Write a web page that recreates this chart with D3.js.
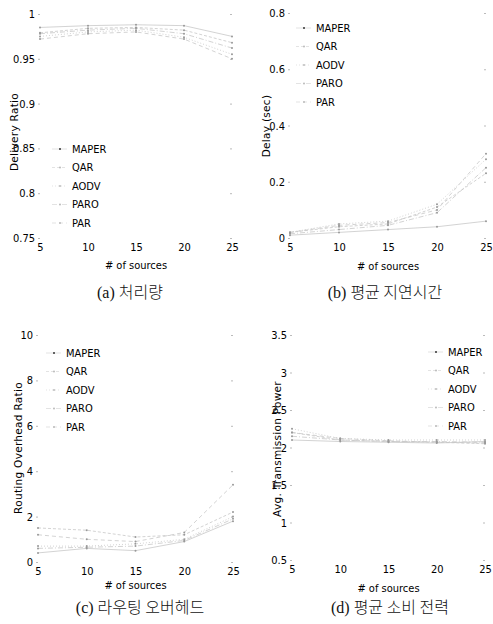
<!DOCTYPE html>
<html>
<head>
<meta charset="utf-8">
<script src="https://cdn.jsdelivr.net/npm/d3@7"></script>
<style>
  body { margin: 0; background: #fff; }
  svg { display: block; }
</style>
</head>
<body>
<script>
// x values shared by all four panels
const sources = [5, 10, 15, 20, 25];
const protocols = ['MAPER', 'QAR', 'AODV', 'PARO', 'PAR'];

// (a) delivery ratio
const deliveryTicks = [0.75, 0.8, 0.85, 0.9, 0.95, 1];
const deliveryMAPER = [0.985, 0.987, 0.988, 0.987, 0.975];
const deliveryQAR   = [0.979, 0.984, 0.985, 0.982, 0.968];
const deliveryAODV  = [0.975, 0.98, 0.982, 0.974, 0.955];
const deliveryPARO  = [0.978, 0.982, 0.984, 0.978, 0.962];
const deliveryPAR   = [0.972, 0.978, 0.98, 0.972, 0.95];

// (b) delay
const delayTicks = [0, 0.2, 0.4, 0.6, 0.8];
const delayMAPER = [0.01, 0.02, 0.03, 0.04, 0.06];
const delayQAR   = [0.02, 0.04, 0.05, 0.11, 0.23];
const delayAODV  = [0.02, 0.05, 0.06, 0.12, 0.28];
const delayPARO  = [0.015, 0.03, 0.045, 0.09, 0.25];
const delayPAR   = [0.02, 0.045, 0.055, 0.1, 0.3];

// (c) routing overhead
const overheadTicks = [0, 2, 4, 6, 8, 10];
const overheadMAPER = [0.4, 0.6, 0.5, 0.9, 1.8];
const overheadQAR   = [1.5, 1.4, 1.1, 1.2, 2.2];
const overheadAODV  = [0.7, 0.7, 0.8, 1.0, 2.0];
const overheadPARO  = [0.6, 0.65, 0.7, 0.95, 1.9];
const overheadPAR   = [1.2, 1.0, 0.9, 1.3, 3.4];

// (d) transmission power
const powerTicks = [0.5, 1, 1.5, 2, 2.5, 3, 3.5];
const powerMAPER = [2.1, 2.08, 2.07, 2.06, 2.08];
const powerQAR   = [2.2, 2.1, 2.08, 2.07, 2.05];
const powerAODV  = [2.25, 2.12, 2.1, 2.1, 2.1];
const powerPARO  = [2.15, 2.1, 2.08, 2.08, 2.07];
const powerPAR   = [2.2, 2.12, 2.09, 2.07, 2.06];

const tickFont = '"Liberation Sans Narrow", "DejaVu Sans Condensed", sans-serif';
const dashes = [null, '3,2', '1,2', '5,2,1,2', '4,3'];

const svg = d3.select('body').append('svg')
  .attr('width', 493)
  .attr('height', 624);

const panels = [
  { x0: 40, x1: 232, y0: 238, y1: 14, domain: [0.75, 1], ticks: deliveryTicks,
    series: [deliveryMAPER, deliveryQAR, deliveryAODV, deliveryPARO, deliveryPAR],
    ylabel: 'Delivery Ratio', ylx: 14, yly: 132, xly: 265,
    legendX: 72, legendY: 149, capX: 130, capY: 292, cap: ['(a)', '처리량'] },
  { x0: 290, x1: 486, y0: 238, y1: 13, domain: [0, 0.8], ticks: delayTicks,
    series: [delayMAPER, delayQAR, delayAODV, delayPARO, delayPAR],
    ylabel: 'Delay (sec)', ylx: 266, yly: 126, xly: 266,
    legendX: 316, legendY: 28, capX: 385, capY: 292, cap: ['(b)', '평균 지연시간'] },
  { x0: 38, x1: 233, y0: 562, y1: 335, domain: [0, 10], ticks: overheadTicks,
    series: [overheadMAPER, overheadQAR, overheadAODV, overheadPARO, overheadPAR],
    ylabel: 'Routing Overhead Ratio', ylx: 18, yly: 448, xly: 585,
    legendX: 66, legendY: 353, capX: 140, capY: 607, cap: ['(c)', '라우팅 오버헤드'] },
  { x0: 292, x1: 485, y0: 560, y1: 335, domain: [0.5, 3.5], ticks: powerTicks,
    series: [powerMAPER, powerQAR, powerAODV, powerPARO, powerPAR],
    ylabel: 'Avg. Transmission Power', ylx: 277, yly: 449, xly: 588,
    legendX: 448, legendY: 352, capX: 390, capY: 607, cap: ['(d)', '평균 소비 전력'] }
];

panels.forEach(p => drawPanel(p));

function drawPanel(p) {
  const x = d3.scaleLinear().domain([5, 25]).range([p.x0, p.x1]);
  const y = d3.scaleLinear().domain(p.domain).range([p.y0, p.y1]);
  const g = svg.append('g');

  // Y axis (only faint tick stubs and labels survive in the scan)
  const yAxis = g.append('g')
    .attr('transform', 'translate(' + p.x0 + ',0)')
    .call(d3.axisLeft(y).tickValues(p.ticks).tickSize(2).tickPadding(3)
      .tickFormat(d => String(+d.toFixed(2))));
  yAxis.select('.domain').remove();
  yAxis.selectAll('line').attr('stroke', '#bbb');
  yAxis.selectAll('text').attr('font-family', tickFont).attr('font-size', 11).attr('fill', '#000');

  // right-hand tick stubs
  g.append('g')
    .attr('transform', 'translate(' + p.x1 + ',0)')
    .call(d3.axisRight(y).tickValues(p.ticks).tickSize(-2).tickFormat(''))
    .call(a => a.select('.domain').remove())
    .selectAll('line').attr('stroke', '#bbb');

  // X axis
  const xAxis = g.append('g')
    .attr('transform', 'translate(0,' + p.y0 + ')')
    .call(d3.axisBottom(x).tickValues(sources).tickSize(0).tickPadding(5));
  xAxis.select('.domain').remove();
  xAxis.selectAll('text').attr('font-family', tickFont).attr('font-size', 11).attr('fill', '#000');

  // Lines (very faded in the reference)
  const line = d3.line().x((d, i) => x(sources[i])).y(d => y(d));
  p.series.forEach((s, k) => {
    g.append('path')
      .datum(s)
      .attr('d', line)
      .attr('fill', 'none')
      .attr('stroke', '#c8c8c8')
      .attr('stroke-width', 0.8)
      .attr('stroke-dasharray', dashes[k]);
    g.selectAll(null)
      .data(s)
      .enter()
      .append('circle')
      .attr('cx', (d, i) => x(sources[i]))
      .attr('cy', d => y(d))
      .attr('r', 1)
      .attr('fill', '#999');
  });

  // Legend
  protocols.forEach((name, k) => {
    const ly = p.legendY + k * 18.5;
    g.append('line')
      .attr('x1', p.legendX - 20).attr('x2', p.legendX - 5)
      .attr('y1', ly).attr('y2', ly)
      .attr('stroke', '#dcdcdc').attr('stroke-width', 0.8)
      .attr('stroke-dasharray', dashes[k]);
    g.append('circle')
      .attr('cx', p.legendX - 12).attr('cy', ly).attr('r', 1)
      .attr('fill', k === 0 ? '#333' : '#bbb');
    g.append('text')
      .attr('x', p.legendX).attr('y', ly)
      .attr('dy', '0.35em')
      .attr('font-family', tickFont).attr('font-size', 11)
      .attr('fill', '#000')
      .text(name);
  });

  // Axis titles
  g.append('text')
    .attr('x', (p.x0 + p.x1) / 2).attr('y', p.xly)
    .attr('dy', '0.35em')
    .attr('text-anchor', 'middle')
    .attr('font-family', tickFont).attr('font-size', 11)
    .attr('fill', '#000')
    .text('# of sources');

  g.append('text')
    .attr('transform', 'translate(' + p.ylx + ',' + p.yly + ') rotate(-90)')
    .attr('dy', '0.35em')
    .attr('text-anchor', 'middle')
    .attr('font-family', '"DejaVu Sans", sans-serif').attr('font-size', 10.5)
    .attr('letter-spacing', 0.3)
    .attr('fill', '#000')
    .text(p.ylabel);

  // Caption
  const cap = g.append('text')
    .attr('x', p.capX).attr('y', p.capY)
    .attr('dy', '0.35em')
    .attr('text-anchor', 'middle')
    .attr('font-size', 16)
    .attr('fill', '#111');
  cap.append('tspan')
    .attr('font-family', '"Liberation Serif", serif')
    .text(p.cap[0] + ' ');
  cap.append('tspan')
    .attr('font-family', '"Noto Sans CJK KR", sans-serif')
    .attr('font-weight', 300)
    .text(p.cap[1]);
}
</script>
</body>
</html>
